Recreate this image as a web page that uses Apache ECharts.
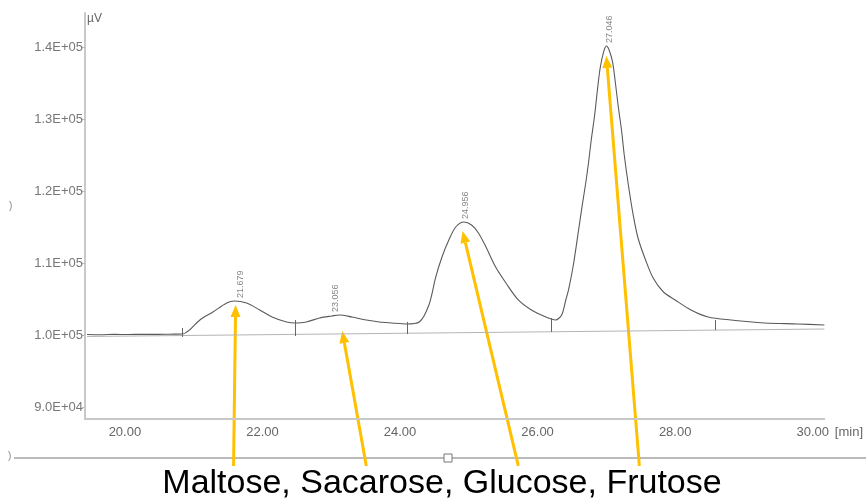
<!DOCTYPE html>
<html>
<head>
<meta charset="utf-8">
<script src="https://cdn.jsdelivr.net/npm/echarts@6/dist/echarts.min.js"></script>
<style>
  html, body { margin: 0; padding: 0; background: #fff; }
  #chart { width: 866px; height: 502px; }
</style>
</head>
<body>
<div id="chart"></div>
<script>
// chromatogram (time in min, signal in µV)
const chromTime = [19.45, 19.65, 19.85, 20.05, 20.25, 20.45, 20.65, 20.84, 20.94, 21.09, 21.28, 21.48, 21.59,
  21.77, 21.96, 22.14, 22.35, 22.49, 22.64, 22.83, 23.01, 23.12, 23.30, 23.51, 23.70, 23.88, 24.09,
  24.28, 24.42, 24.52, 24.61, 24.71, 24.81, 24.93, 25.04, 25.14, 25.25, 25.39, 25.54, 25.72,
  25.91, 26.12, 26.26, 26.35, 26.41, 26.45, 26.52, 26.59, 26.65, 26.70, 26.74, 26.78, 26.83, 26.87,
  26.91, 26.96, 27.00, 27.04, 27.09, 27.13, 27.17, 27.22, 27.26, 27.32, 27.39, 27.46, 27.57, 27.68,
  27.83, 28.00, 28.23, 28.48, 28.81, 29.30, 29.78, 30.17];
const chromSignal = [100070, 100040, 100090, 100060, 100100, 100080, 100110, 100140, 100690, 102080, 103190, 104440, 104720,
  104440, 103470, 102500, 101810, 101670, 101810, 102360, 102640, 102780, 102500, 102080, 101810, 101670, 101530,
  101810, 104170, 108060, 110830, 113190, 115000, 115690, 115280, 114170, 112220, 109440, 107220, 104860,
  103470, 102500, 102080, 102780, 104860, 106250, 109720, 114170, 118060, 121110, 123890, 127080, 130560, 134030,
  137080, 139310, 140140, 139580, 137920, 135140, 131940, 128470, 125000, 120830, 116670, 113470, 110420, 107920,
  105970, 104860, 103470, 102500, 102080, 101670, 101530, 101390];

// integration baseline (two ends)
const baselineTime = [19.45, 30.17];
const baselineSignal = [99790, 100830];

// peak start/end drop marks
const dropTime = [20.84, 22.48, 24.10, 26.20, 28.59];
const dropTop = [100970, 102080, 101810, 102360, 102080];
const dropBottom = [99720, 99860, 100140, 100420, 100690];

// peaks
const peakTime = [21.679, 23.056, 24.956, 27.046];
const peakHeight = [104720, 102780, 115690, 140140];
const peakNames = ['Maltose', 'Sacarose', 'Glucose', 'Frutose'];

// axis ticks
const xTicks = [20, 22, 24, 26, 28, 30];
const yTicks = [90000, 100000, 110000, 120000, 130000, 140000];

// yellow arrows: head near each peak, tail above the caption
const arrowHeadTime = [21.61, 23.16, 24.91, 27.0];
const arrowHeadSignal = [104170, 100560, 114440, 138750];
const arrowTailTime = [21.58, 23.51, 25.72, 27.48];
const arrowTailSignal = [81810, 81810, 81810, 81810];

const fmtExp = (v) => {
  const e = Math.floor(Math.log10(v) + 1e-9);
  const m = v / Math.pow(10, e);
  return m.toFixed(1) + 'E+' + String(e).padStart(2, '0');
};

const chart = echarts.init(document.getElementById('chart'));

const option = {
  animation: false,
  backgroundColor: '#fff',
  grid: { left: 85, right: 39, top: 13, bottom: 83 },
  xAxis: {
    type: 'value',
    min: 19.42,
    max: 30.17,
    name: '[min]',
    nameLocation: 'end',
    nameGap: 5,
    nameTextStyle: { color: '#666', fontSize: 13, fontFamily: 'Liberation Sans', verticalAlign: 'top', padding: [7, 0, 0, 0] },
    axisLine: { lineStyle: { color: '#c8c8c8', width: 2 } },
    axisTick: { show: false },
    splitLine: { show: false },
    axisLabel: {
      customValues: xTicks,
      color: '#666',
      fontSize: 13,
      fontFamily: 'Liberation Sans',
      margin: 7,
      formatter: (v) => v.toFixed(2),
      showMinLabel: true,
      showMaxLabel: true,
    },
  },
  yAxis: {
    type: 'value',
    min: 88330,
    max: 144720,
    name: 'µV',
    nameLocation: 'end',
    nameGap: 0,
    nameTextStyle: { color: '#666', fontSize: 12, fontFamily: 'Liberation Sans', align: 'left', verticalAlign: 'top', padding: [0, 0, 0, 2] },
    axisLine: { show: true, lineStyle: { color: '#c8c8c8', width: 2 } },
    axisTick: { show: true, customValues: yTicks, length: 3, lineStyle: { color: '#bbb' } },
    splitLine: { show: false },
    axisLabel: {
      customValues: yTicks,
      color: '#777',
      fontSize: 13,
      fontFamily: 'Liberation Sans',
      margin: 2,
      formatter: fmtExp,
    },
  },
  series: [
    {
      // baseline + drop lines
      type: 'line',
      data: baselineTime.map((t, i) => [t, baselineSignal[i]]),
      symbol: 'none',
      lineStyle: { color: '#b5b5b5', width: 1 },
      silent: true,
      markLine: {
        silent: true,
        symbol: 'none',
        label: { show: false },
        lineStyle: { color: '#666', width: 1, type: 'solid' },
        data: dropTime.map((t, i) => [{ coord: [t, dropTop[i]] }, { coord: [t, dropBottom[i]] }]),
      },
    },
    {
      // signal
      type: 'line',
      data: chromTime.map((t, i) => [t, chromSignal[i]]),
      symbol: 'none',
      smooth: 0.3,
      lineStyle: { color: '#5a5a5a', width: 1.1 },
      silent: true,
    },
    {
      // retention time labels
      type: 'scatter',
      data: peakTime.map((t, i) => [t, peakHeight[i]]),
      symbolSize: 0,
      silent: true,
      label: {
        show: true,
        position: 'top',
        distance: 3,
        rotate: 90,
        align: 'left',
        verticalAlign: 'middle',
        color: '#666',
        fontSize: 9,
        fontFamily: 'Liberation Sans',
        formatter: (p) => p.value[0].toFixed(3),
      },
    },
  ],
};
chart.setOption(option);

// caption, connector line and the arrows (positions from data coords)
const gold = '#ffc000';
const graphics = [
  { type: 'line', shape: { x1: 14, y1: 458, x2: 866, y2: 458 }, style: { stroke: '#777', lineWidth: 1 }, silent: true },
  { type: 'rect', shape: { x: 444, y: 454, width: 8, height: 8 }, style: { fill: '#fff', stroke: '#777', lineWidth: 1 }, silent: true },
  { type: 'text', x: 8, y: 451, style: { text: ')', fill: '#888', font: '10px Liberation Sans' }, silent: true },
  { type: 'text', x: 9, y: 201, style: { text: ')', fill: '#888', font: '10px Liberation Sans' }, silent: true },
  {
    type: 'text', x: 442, y: 484, silent: true,
    style: {
      text: peakNames.join(', '), fill: '#000', font: '34px Liberation Sans',
      align: 'center', verticalAlign: 'middle',
    },
  },
];
for (let i = 0; i < arrowHeadTime.length; i++) {
  const h = chart.convertToPixel({ gridIndex: 0 }, [arrowHeadTime[i], arrowHeadSignal[i]]);
  const t = chart.convertToPixel({ gridIndex: 0 }, [arrowTailTime[i], arrowTailSignal[i]]);
  const dx = h[0] - t[0], dy = h[1] - t[1];
  const len = Math.sqrt(dx * dx + dy * dy);
  const ux = dx / len, uy = dy / len;
  const hl = 12, hw = 5;
  const bx = h[0] - ux * hl, by = h[1] - uy * hl;
  graphics.push({
    type: 'line', silent: true,
    shape: { x1: t[0], y1: t[1], x2: bx, y2: by },
    style: { stroke: gold, lineWidth: 3 },
  });
  graphics.push({
    type: 'polygon', silent: true,
    shape: { points: [[h[0], h[1]], [bx - uy * hw, by + ux * hw], [bx + uy * hw, by - ux * hw]] },
    style: { fill: gold },
  });
}
chart.setOption({ graphic: graphics });
</script>
</body>
</html>
